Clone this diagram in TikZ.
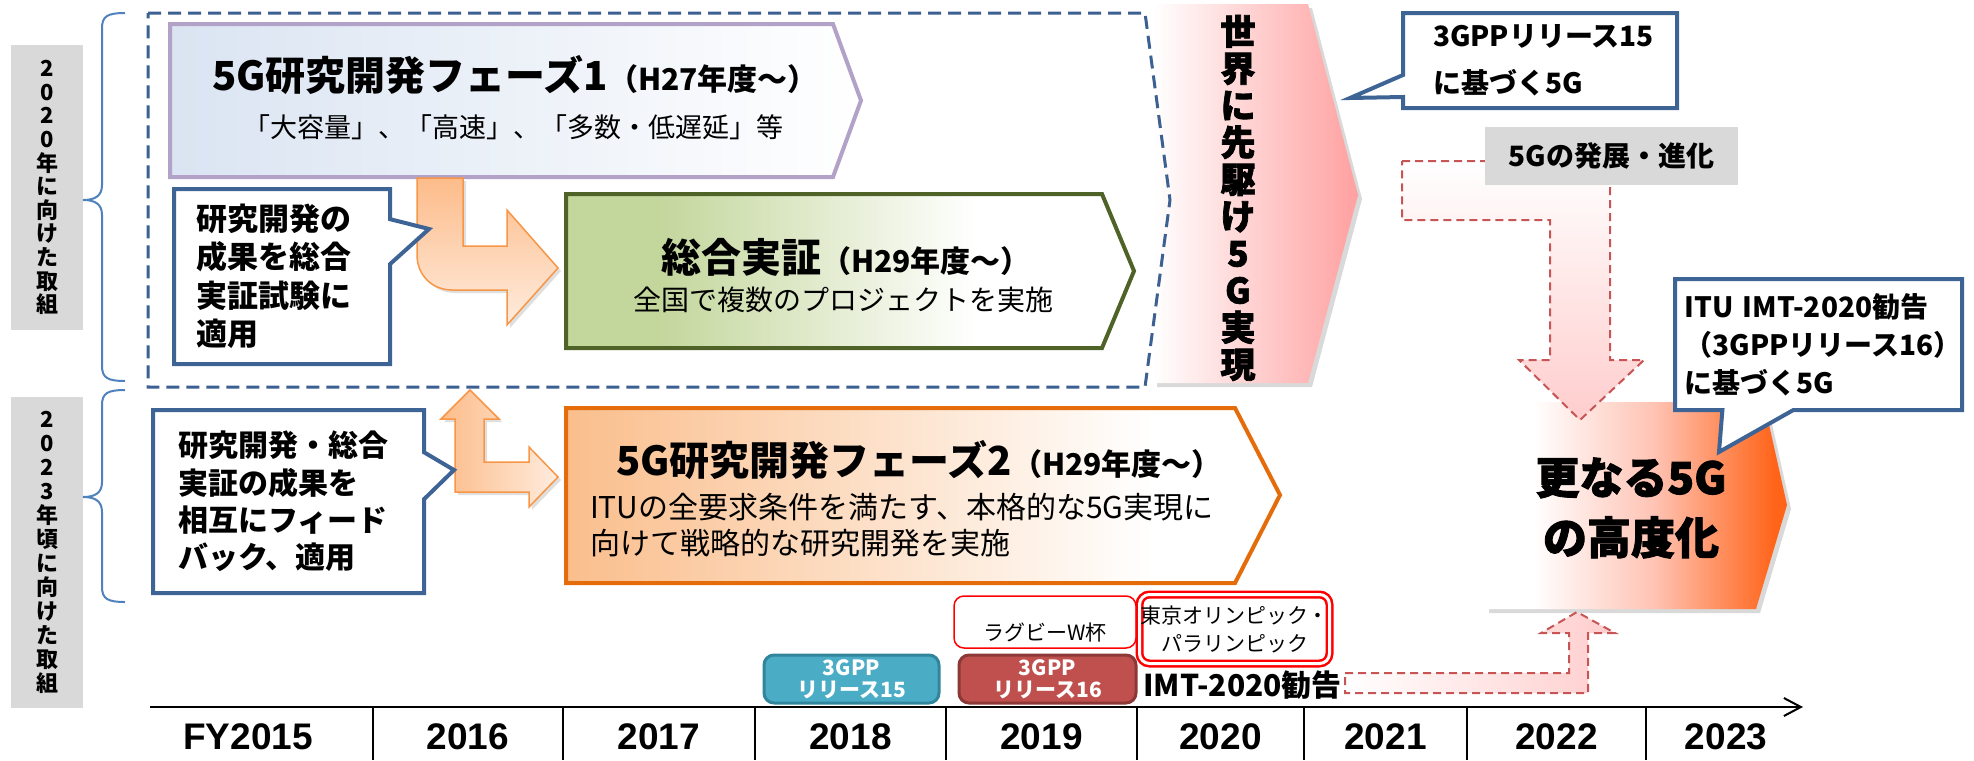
\documentclass[tikz,border=0pt]{standalone}
\usepackage{fontspec}
\setmainfont{Noto Sans CJK JP}
\newfontfamily\jpheavy{Noto Sans CJK JP}[BoldFeatures={FakeBold=2}]
\newfontfamily\yearfont{Liberation Sans}
\usetikzlibrary{arrows.meta,shapes.callouts,shadows}
\definecolor{cDash}{RGB}{59,96,145}
\definecolor{cCall}{RGB}{62,100,150}
\definecolor{cPoneB}{RGB}{179,162,199}
\definecolor{cPoneF}{RGB}{218,228,242}
\definecolor{cSogoB}{RGB}{79,98,40}
\definecolor{cSogoF}{RGB}{195,214,155}
\definecolor{cPtwoB}{RGB}{228,108,10}
\definecolor{cPtwoF}{RGB}{250,190,140}
\definecolor{cArrB}{RGB}{247,150,70}
\definecolor{cArrT}{RGB}{253,188,138}
\definecolor{cArrL}{RGB}{254,236,222}
\definecolor{cWorld}{RGB}{255,160,160}
\definecolor{cMoreM}{RGB}{255,195,180}
\definecolor{cMoreR}{RGB}{255,100,25}
\definecolor{cGrayL}{RGB}{217,217,217}
\definecolor{cBrace}{RGB}{79,129,189}
\definecolor{cTeal}{RGB}{75,172,198}
\definecolor{cTealB}{RGB}{49,133,156}
\definecolor{cRel}{RGB}{192,80,77}
\definecolor{cRelB}{RGB}{140,56,54}
\definecolor{cEvt}{RGB}{255,0,0}
\definecolor{cRedDash}{RGB}{200,85,85}
\definecolor{cPinkL}{RGB}{255,205,205}
\pgfdeclarehorizontalshading{shSogo}{100bp}{color(0bp)=(cSogoF); color(33bp)=(cSogoF); color(61bp)=(white); color(100bp)=(white)}
\pgfdeclarehorizontalshading{shPtwo}{100bp}{color(0bp)=(cPtwoF); color(25bp)=(cPtwoF); color(66bp)=(white); color(100bp)=(white)}
\pgfdeclarehorizontalshading{shMore}{100bp}{color(0bp)=(white); color(33bp)=(white); color(53bp)=(cMoreM); color(73bp)=(cMoreR); color(100bp)=(cMoreR)}
\newcommand\fsTitle{\fontsize{20}{24}\selectfont}
\newcommand\fsParen{\fontsize{15}{18}\selectfont}
\newcommand\fsSub{\fontsize{14}{18}\selectfont}
\newcommand\fsSubA{\fontsize{13.5}{18}\selectfont}
\newcommand\fsSubB{\fontsize{15}{18}\selectfont}
\newcommand\fsCallA{\fontsize{15.5}{19.25}\selectfont}
\newcommand\fsCallB{\fontsize{15}{18.7}\selectfont}
\newcommand\fsCallC{\fontsize{14}{23.5}\selectfont}
\newcommand\fsCallD{\fontsize{14}{19}\selectfont}
\newcommand\fsSide{\fontsize{11}{11.8}\selectfont}
\newcommand\fsSideB{\fontsize{11}{12}\selectfont}
\newcommand\fsWorld{\fontsize{17.5}{18.5}\selectfont}
\newcommand\fsMore{\fontsize{22}{30}\selectfont}
\newcommand\fsEvt{\fontsize{10.5}{14}\selectfont}
\newcommand\fsRel{\fontsize{10.5}{11}\selectfont}
\newcommand\fsYear{\fontsize{18.5}{22}\selectfont}
\tikzset{
  phasebox/.style={line width=2pt,line join=miter},
  frame/.style={draw=cDash,line width=1.5pt,dash pattern=on 6.5pt off 3.5pt},
  callbox/.style={rectangle callout,draw=cCall,line width=2pt,fill=white,
                  align=left,inner ysep=0pt,font=\bfseries},
  blockarr/.style={draw=cArrB,line width=0.75pt,
                   drop shadow={opacity=0.25,shadow xshift=1.5pt,shadow yshift=-1.5pt}},
  bigshape/.style={drop shadow={opacity=0.3,shadow xshift=2pt,shadow yshift=-2pt}},
  reddash/.style={draw=cRedDash,line width=1pt,dash pattern=on 4pt off 2.5pt},
  sidelbl/.style={fill=cGrayL,align=center,font=\bfseries\fsSide,
                  minimum width=36pt,inner sep=0pt},
  sidebrace/.style={draw=cBrace,line width=1pt},
  evtbox/.style={draw=cEvt,line width=0.75pt,rounded corners=5pt,fill=white,
                 align=center,font=\fsEvt,inner sep=0pt},
  relbox/.style={rounded corners=5pt,line width=1.5pt,text=white,align=center,
                 font=\bfseries\fsRel,minimum height=24pt,inner sep=0pt},
  yearlbl/.style={font=\yearfont\bfseries\fsYear},
  tickln/.style={line width=1pt},
  axisarr/.style={-{Straight Barb[length=8.5pt,width=9pt]},line width=1pt}
}
\begin{document}
\begin{tikzpicture}[x=0.5pt,y=-0.5pt]
  \useasboundingbox (0,0) rectangle (1974,760);

  % side labels
  \node[sidelbl,minimum height=142.5pt] (lblA) at (47,187.5)
      {2\\0\\2\\0\\年\\に\\向\\け\\た\\取\\組};
  \node[sidelbl,minimum height=155.5pt,font=\bfseries\fsSideB] (lblB) at (47,552.5)
      {2\\0\\2\\3\\年\\頃\\に\\向\\け\\た\\取\\組};
  \draw[sidebrace] (125,13) .. controls (108,13) and (102,16) .. (102,28)
      -- (102,185) .. controls (102,196) and (95,200) .. (83,200)
      .. controls (95,200) and (102,204) .. (102,215)
      -- (102,366) .. controls (102,378) and (108,381) .. (125,381);
  \draw[sidebrace] (125,390) .. controls (108,390) and (102,393) .. (102,405)
      -- (102,482) .. controls (102,493) and (95,497) .. (83,497)
      .. controls (95,497) and (102,501) .. (102,512)
      -- (102,587) .. controls (102,599) and (108,602) .. (125,602);

  % world-first arrow
  \path[bigshape,left color=white,right color=cWorld]
      (1153,4) -- (1308,4) -- (1358,195) -- (1308,383) -- (1153,383) -- cycle;
  \node[font=\jpheavy\bfseries\fsWorld,align=center] (world) at (1238,198)
      {世\\界\\に\\先\\駆\\け\\5\\G\\実\\現};

  % dashed frame
  \draw[frame] (148,13) -- (1145,13) -- (1170,200) -- (1145,387) -- (148,387) -- cycle;

  % phase 1
  \draw[phasebox,draw=cPoneB,left color=cPoneF,right color=white]
      (170,24) -- (833,24) -- (861,100.5) -- (833,177) -- (170,177) -- cycle;
  \node[font=\bfseries] (poneTitle) at (515,75)
      {{\fsTitle 5G研究開発フェーズ1}{\fsParen （H27年度～）}};
  \node[font=\fsSubA] (poneSub) at (513,127) {「大容量」、「高速」、「多数・低遅延」等};

  % field trials
  \draw[phasebox,draw=cSogoB,shading=shSogo]
      (566,194) -- (1102,194) -- (1134,271) -- (1102,348) -- (566,348) -- cycle;
  \node[font=\bfseries] (sogoTitle) at (846,257)
      {{\fsTitle 総合実証}{\fsParen （H29年度～）}};
  \node[font=\fsSub] (sogoSub) at (843,300) {全国で複数のプロジェクトを実施};

  % phase 2
  \draw[phasebox,draw=cPtwoB,shading=shPtwo]
      (566,408) -- (1235,408) -- (1280,495) -- (1235,583) -- (566,583) -- cycle;
  \node[font=\bfseries] (ptwoTitle) at (919,460)
      {{\fsTitle 5G研究開発フェーズ2}{\fsParen （H29年度～）}};
  \node[font=\fsSubB,align=left,anchor=west] (ptwoSub) at (583,525)
      {ITUの全要求条件を満たす、本格的な5G実現に\\向けて戦略的な研究開発を実施};

  % block arrows
  \path[blockarr,top color=cArrT,bottom color=cArrL]
      (417,178) -- (463,178) -- (463,246) -- (507,246) -- (507,210) -- (558,268)
      -- (507,325) -- (507,290) -- (452,290) .. controls (432,290) and (417,275) .. (417,255)
      -- cycle;
  \path[blockarr,left color=cArrT,right color=cArrL]
      (470,390) -- (499,419) -- (484,419) -- (484,462) -- (529,462) -- (529,447)
      -- (558,477) -- (529,507) -- (529,492) -- (455,492) -- (455,419) -- (441,419) -- cycle;

  % callouts
  \node[callbox,font=\bfseries\fsCallA,minimum width=108pt,minimum height=87.5pt,
        text width=86pt,inner xsep=11pt,callout pointer width=22.5pt,
        callout absolute pointer={(429,229)}] (noteA) at (282,276.5)
      {研究開発の\\成果を総合\\実証試験に\\適用};
  \node[callbox,font=\bfseries\fsCallB,minimum width=135.5pt,minimum height=91.5pt,
        text width=110.5pt,inner xsep=12.5pt,callout pointer width=23.5pt,
        callout absolute pointer={(454,470)}] (noteB) at (288.5,501.5)
      {研究開発・総合\\実証の成果を\\相互にフィード\\バック、適用};
  \node[callbox,font=\bfseries\fsCallC,minimum width=137pt,minimum height=47.5pt,
        text width=107pt,inner xsep=15pt,callout pointer width=11pt,
        callout absolute pointer={(1350,98)}] (noteC) at (1540,60.5)
      {3GPPリリース15\\に基づく5G};

  % further evolution
  \path[bigshape,shading=shMore]
      (1485,402) -- (1764,402) -- (1787,505) -- (1756,609) -- (1485,609) -- cycle;
  \node[font=\jpheavy\bfseries\fsMore,align=center] (more) at (1631,508)
      {更なる5G\\の高度化};
  \path[reddash,top color=white,bottom color=cPinkL]
      (1402,161) -- (1610,161) -- (1610,360) -- (1644,360) -- (1580,420) -- (1519,360)
      -- (1550,360) -- (1550,220) -- (1402,220) -- cycle;
  \node[fill=cGrayL,font=\bfseries\fsSub,minimum width=126.5pt,minimum height=29pt,
        inner sep=0pt] (evolve) at (1611.5,156) {5Gの発展・進化};
  \path[reddash,left color=white,right color=cPinkL]
      (1345,673) -- (1569,673) -- (1569,633) -- (1541,633) -- (1577,612) -- (1615,633)
      -- (1588,633) -- (1588,693) -- (1345,693) -- cycle;
  \node[callbox,font=\bfseries\fsCallD,minimum width=143.5pt,minimum height=65.5pt,
        text width=134pt,inner xsep=4.75pt,callout pointer width=35.5pt,
        callout absolute pointer={(1719,452)}] (noteD) at (1818.5,344.5)
      {\mbox{ITU IMT-2020勧告}\\\mbox{（3GPPリリース16）}\\に基づく5G};

  % events and releases
  \node[evtbox,minimum width=91pt,minimum height=26pt,text height=18pt,text depth=0pt]
      (rugby) at (1045,622) {ラグビーW杯};
  \node[evtbox,double=white,double distance=1.5pt,line width=1.25pt,
        minimum width=95pt,minimum height=34.5pt] (olympic) at (1234.5,629)
      {東京オリンピック・\\パラリンピック};
  \node[relbox,fill=cTeal,draw=cTealB,minimum width=87.5pt] (relA) at (851.5,679)
      {3GPP\\リリース15};
  \node[relbox,fill=cRel,draw=cRelB,minimum width=88.5pt] (relB) at (1047.5,679)
      {3GPP\\リリース16};
  \node[font=\bfseries\fsSubB,anchor=west,inner sep=0pt] (imt) at (1143,685) {IMT-2020勧告};

  % timeline
  \coordinate (tlStart) at (150,707);
  \coordinate (tlEnd) at (1803,707);
  \draw[axisarr] (tlStart) -- (tlEnd);
  \draw[tickln] (373,707) -- (373,760);
  \draw[tickln] (563,707) -- (563,760);
  \draw[tickln] (755,707) -- (755,760);
  \draw[tickln] (946,707) -- (946,760);
  \draw[tickln] (1137,707) -- (1137,760);
  \draw[tickln] (1304,707) -- (1304,760);
  \draw[tickln] (1467,707) -- (1467,760);
  \draw[tickln] (1646,707) -- (1646,760);
  \node[yearlbl] (fyA) at (248,737) {FY2015};
  \node[yearlbl] (fyB) at (468,737) {2016};
  \node[yearlbl] (fyC) at (659,737) {2017};
  \node[yearlbl] (fyD) at (850.5,737) {2018};
  \node[yearlbl] (fyE) at (1041.5,737) {2019};
  \node[yearlbl] (fyF) at (1220.5,737) {2020};
  \node[yearlbl] (fyG) at (1385.5,737) {2021};
  \node[yearlbl] (fyH) at (1556.5,737) {2022};
  \node[yearlbl] (fyI) at (1726,737) {2023};
\end{tikzpicture}
\end{document}
